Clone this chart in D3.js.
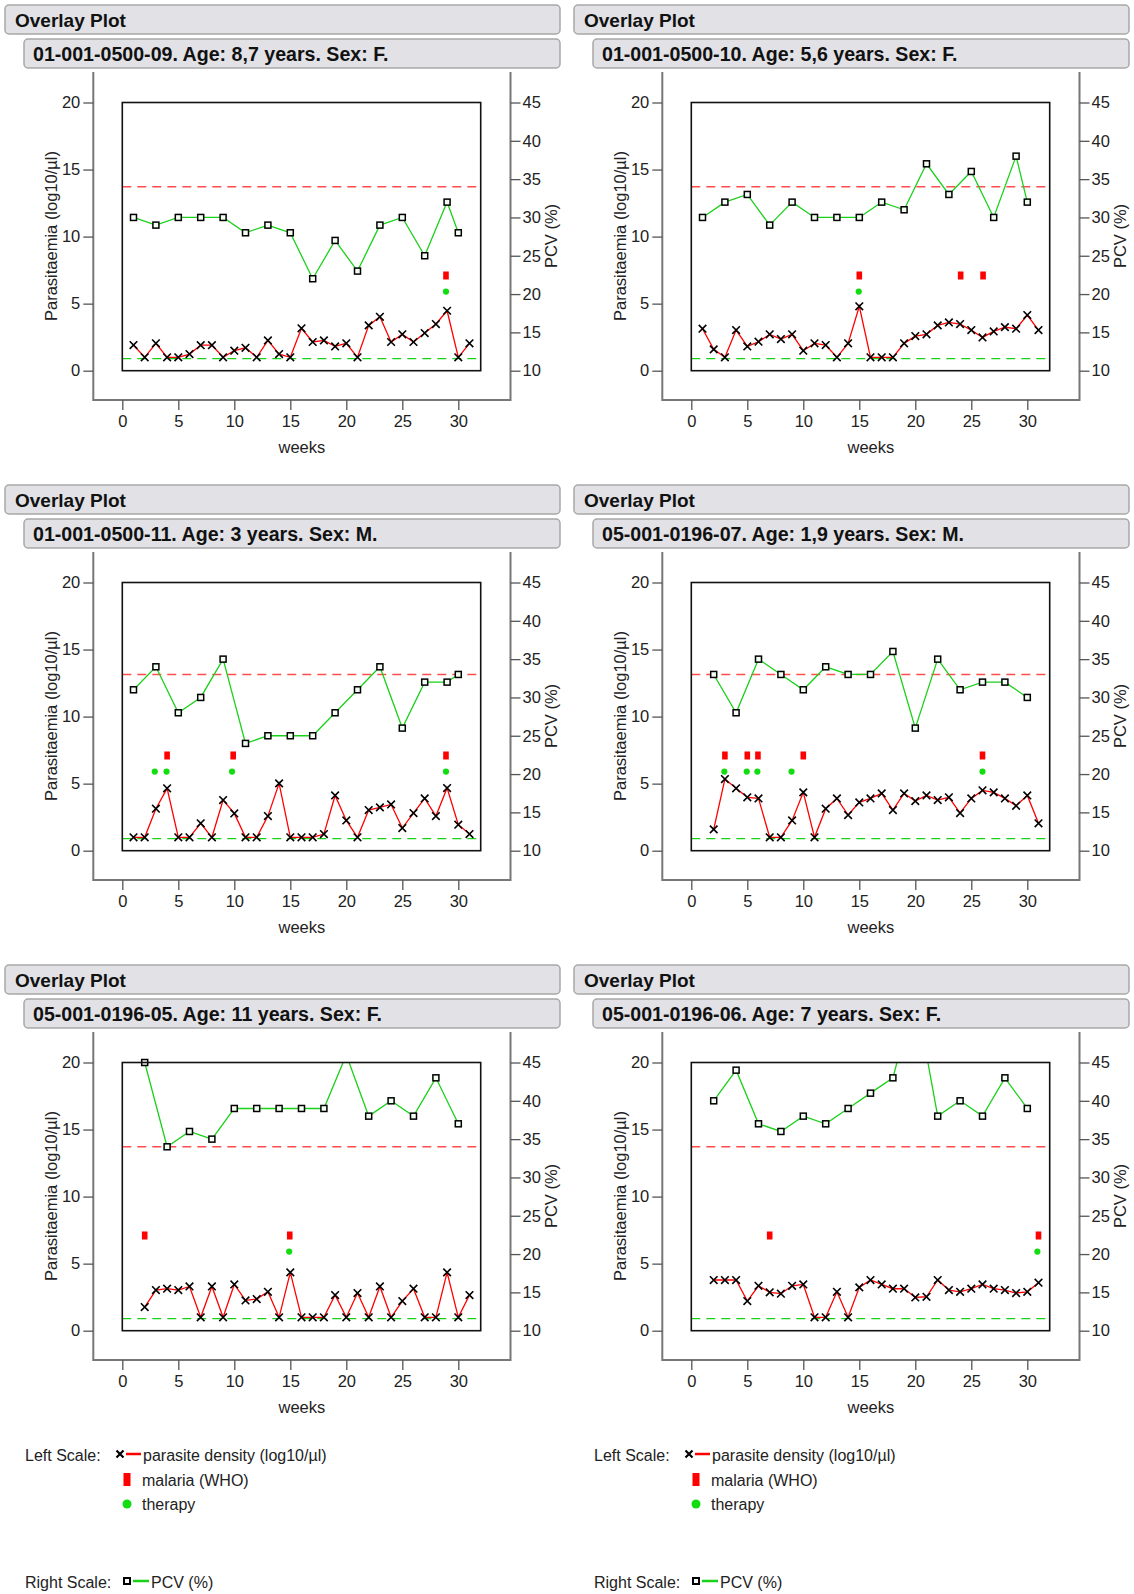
<!DOCTYPE html>
<html>
<head>
<meta charset="utf-8">
<script src="https://cdn.jsdelivr.net/npm/d3@7/dist/d3.min.js"></script>
<style>
  body { margin: 0; background: #fff; }
  svg { font-family: "Liberation Sans", Arial, sans-serif; }
</style>
</head>
<body>
<div id="chart"></div>
<script>
// ---- data ----
const subtitles = [
  "01-001-0500-09. Age: 8,7 years. Sex: F.",
  "01-001-0500-10. Age: 5,6 years. Sex: F.",
  "01-001-0500-11. Age: 3 years. Sex: M.",
  "05-001-0196-07. Age: 1,9 years. Sex: M.",
  "05-001-0196-05. Age: 11 years. Sex: F.",
  "05-001-0196-06. Age: 7 years. Sex: F."
];

const densityWeeksA = [1,2,3,4,5,6,7,8,9,10,11,12,13,14,15,16,17,18,19,20,21,22,23,24,25,26,27,28,29,30,31];
const densityWeeksB = [2,3,4,5,6,7,8,9,10,11,12,13,14,15,16,17,18,19,20,21,22,23,24,25,26,27,28,29,30,31];
const pcvWeeksA = [1,3,5,7,9,11,13,15,17,19,21,23,25,27,29,30];
const pcvWeeksB = [2,4,6,8,10,12,14,16,18,20,22,24,26,28,30];

const density1 = [1.91,1.0,2.04,1.0,1.0,1.24,1.9,1.9,1.0,1.49,1.71,1.0,2.26,1.24,1.0,3.16,2.14,2.26,1.81,2.04,1.0,3.38,4.02,2.14,2.71,2.14,2.81,3.48,4.47,1.0,2.04];
const density2 = [3.13,1.59,1.0,3.03,1.81,2.16,2.71,2.36,2.71,1.49,2.04,1.91,1.0,2.04,4.8,1.0,1.0,1.0,2.04,2.58,2.71,3.38,3.6,3.48,3.03,2.48,2.93,3.25,3.13,4.15,3.03];
const density3 = [1.0,1.0,3.13,4.65,1.0,1.0,2.04,1.0,3.78,2.78,1.0,1.0,2.58,5.02,1.0,1.0,1.0,1.24,4.12,2.26,1.0,3.03,3.23,3.45,1.69,2.81,3.9,2.58,4.67,1.94,1.24];
const density4 = [1.59,5.34,4.65,3.98,3.9,1.0,1.0,2.26,4.35,1.0,3.13,3.9,2.66,3.6,3.9,4.27,3.03,4.27,3.7,4.12,3.78,3.98,2.81,3.9,4.5,4.35,3.9,3.35,4.12,2.04];
const density5 = [1.76,3.03,3.13,3.03,3.3,1.0,3.3,1.0,3.45,2.26,2.36,2.9,1.0,4.35,1.0,1.0,1.0,2.66,1.0,2.81,1.0,3.3,1.0,2.21,3.13,1.0,1.0,4.35,1.0,2.66];
const density6 = [3.78,3.78,3.78,2.21,3.35,2.86,2.76,3.35,3.45,1.0,1.0,2.9,1.0,3.23,3.78,3.45,3.13,3.13,2.48,2.53,3.78,3.03,2.9,3.13,3.45,3.13,3.03,2.81,2.9,3.58];

const pcv1 = [30,29,30,30,30,28,29,28,22,27,23,29,30,25,32,28];
const pcv2 = [30,32,33,29,32,30,30,30,32,31,37,33,36,30,38,32];
const pcv3 = [31,34,28,30,35,24,25,25,25,28,31,34,26,32,32,33];
const pcv4 = [33,28,35,33,31,34,33,33,36,26,35,31,32,32,30];
const pcv5 = [45,34,36,35,39,39,39,39,39,46,38,40,38,43,37];
const pcv6 = [40,44,37,36,38,37,39,41,43,54,38,40,38,43,39];

const malaria1 = [28.9];
const malaria2 = [15, 24.05, 26.05];
const malaria3 = [4, 9.9, 28.9];
const malaria4 = [3, 5, 5.95, 10, 26];
const malaria5 = [2, 14.95];
const malaria6 = [7, 31];

const therapy1 = [28.9];
const therapy2 = [14.95];
const therapy3 = [2.9, 3.95, 9.8, 28.9];
const therapy4 = [2.95, 4.95, 5.9, 8.95, 26];
const therapy5 = [14.9];
const therapy6 = [30.9];

const pcvLimits = [34, 34, 33, 33, 34, 34];   // red dashed line, right scale
const densityLimit = 0.9;                       // green dashed line, left scale
const malariaLevel = 7.1;                       // row of malaria marks, left scale
const therapyLevel = 5.9;                       // row of therapy marks, left scale

const leftTicks = [0, 5, 10, 15, 20];
const rightTicks = [10, 15, 20, 25, 30, 35, 40, 45];
const weekTicks = [0, 5, 10, 15, 20, 25, 30];

const panels = [
  { sub: subtitles[0], dWeeks: densityWeeksA, density: density1, pWeeks: pcvWeeksA, pcv: pcv1, malaria: malaria1, therapy: therapy1, limit: pcvLimits[0] },
  { sub: subtitles[1], dWeeks: densityWeeksA, density: density2, pWeeks: pcvWeeksA, pcv: pcv2, malaria: malaria2, therapy: therapy2, limit: pcvLimits[1] },
  { sub: subtitles[2], dWeeks: densityWeeksA, density: density3, pWeeks: pcvWeeksA, pcv: pcv3, malaria: malaria3, therapy: therapy3, limit: pcvLimits[2] },
  { sub: subtitles[3], dWeeks: densityWeeksB, density: density4, pWeeks: pcvWeeksB, pcv: pcv4, malaria: malaria4, therapy: therapy4, limit: pcvLimits[3] },
  { sub: subtitles[4], dWeeks: densityWeeksB, density: density5, pWeeks: pcvWeeksB, pcv: pcv5, malaria: malaria5, therapy: therapy5, limit: pcvLimits[4] },
  { sub: subtitles[5], dWeeks: densityWeeksB, density: density6, pWeeks: pcvWeeksB, pcv: pcv6, malaria: malaria6, therapy: therapy6, limit: pcvLimits[5] }
];

// ---- layout ----
const width = 1134, height = 1594;
const colX = [0, 569];
const rowY = [0, 480];

const axisLeftX = 93.3, axisRightX = 510.5, axisTopY = 72, axisBottomY = 400;

const x = d3.scaleLinear().domain([0, 32]).range([122.3, 480.7]);
const yL = d3.scaleLinear().domain([0, 20]).range([370.7, 102.5]);
const yR = d3.scaleLinear().domain([10, 45]).range([370.7, 102.5]);

const RED = "#ff0000", GREEN = "#19d119", GRAY = "#777";

const svg = d3.select("#chart").append("svg")
  .attr("width", width)
  .attr("height", height);

const xMark = "M-3.8,-3.8L3.8,3.8M-3.8,3.8L3.8,-3.8";

panels.forEach((p, i) => {
  const g = svg.append("g")
    .attr("transform", `translate(${colX[i % 2]},${rowY[0] + 480 * Math.floor(i / 2)})`);

  // title boxes
  g.append("rect").attr("x", 5).attr("y", 5).attr("width", 555).attr("height", 29)
    .attr("rx", 4).attr("fill", "#e1e1e6").attr("stroke", "#a8a8a8").attr("stroke-width", 1.5);
  g.append("text").attr("x", 15).attr("y", 27)
    .attr("font-size", "19px").attr("font-weight", "bold").attr("fill", "#111")
    .text("Overlay Plot");
  g.append("rect").attr("x", 24).attr("y", 39).attr("width", 536).attr("height", 29)
    .attr("rx", 4).attr("fill", "#e1e1e6").attr("stroke", "#a8a8a8").attr("stroke-width", 1.5);
  g.append("text").attr("x", 33).attr("y", 61)
    .attr("font-size", "19.6px").attr("font-weight", "bold").attr("fill", "#111")
    .text(p.sub);

  // outer axis lines
  g.append("path")
    .attr("d", `M${axisLeftX},${axisTopY}V${axisBottomY}H${axisRightX}V${axisTopY}`)
    .attr("fill", "none").attr("stroke", GRAY).attr("stroke-width", 2);

  // left axis
  const la = g.append("g").attr("transform", `translate(${axisLeftX},0)`);
  la.call(d3.axisLeft(yL).tickValues(d3.range(0, 21)).tickSize(6).tickFormat(""));
  la.call(d3.axisLeft(yL).tickValues(leftTicks).tickSize(10).tickPadding(3));

  // right axis
  const ra = g.append("g").attr("transform", `translate(${axisRightX},0)`);
  ra.call(d3.axisRight(yR).tickValues(d3.range(10, 46)).tickSize(6).tickFormat(""));
  ra.call(d3.axisRight(yR).tickValues(rightTicks).tickSize(10).tickPadding(2));

  // bottom axis
  const ba = g.append("g").attr("transform", `translate(0,${axisBottomY})`);
  ba.call(d3.axisBottom(x).tickValues(d3.range(0, 33)).tickSize(6).tickFormat(""));
  ba.call(d3.axisBottom(x).tickValues(weekTicks).tickSize(10).tickPadding(5));

  g.selectAll(".domain").remove();
  g.selectAll(".tick line").attr("stroke", "#555").attr("stroke-width", 1.3);
  g.selectAll(".tick text").attr("font-size", "16.5px").attr("fill", "#222")
    .attr("font-family", "Liberation Sans, Arial, sans-serif");

  // axis titles
  g.append("text")
    .attr("transform", `translate(57,236) rotate(-90)`)
    .attr("text-anchor", "middle").attr("font-size", "16.5px").attr("fill", "#222")
    .text("Parasitaemia (log10/µl)");
  g.append("text")
    .attr("transform", `translate(557,236) rotate(-90)`)
    .attr("text-anchor", "middle").attr("font-size", "16.5px").attr("fill", "#222")
    .text("PCV (%)");
  g.append("text")
    .attr("x", (axisLeftX + axisRightX) / 2).attr("y", 453)
    .attr("text-anchor", "middle").attr("font-size", "16.5px").attr("fill", "#222")
    .text("weeks");

  // clip to inner frame
  const clipId = "clip" + i;
  g.append("clipPath").attr("id", clipId)
    .append("rect")
    .attr("x", x(0)).attr("y", yL(20))
    .attr("width", x(32) - x(0)).attr("height", yL(0) - yL(20));

  const plot = g.append("g").attr("clip-path", `url(#${clipId})`);

  // threshold lines
  plot.append("line")
    .attr("x1", x(0)).attr("x2", x(32))
    .attr("y1", yR(p.limit)).attr("y2", yR(p.limit))
    .attr("stroke", "#ff4d4d").attr("stroke-width", 1.4).attr("stroke-dasharray", "9,6");
  plot.append("line")
    .attr("x1", x(0)).attr("x2", x(32))
    .attr("y1", yL(densityLimit)).attr("y2", yL(densityLimit))
    .attr("stroke", GREEN).attr("stroke-width", 1.4).attr("stroke-dasharray", "9,6");

  // PCV line
  const pcvData = p.pWeeks.map((w, k) => ({ w, v: p.pcv[k] }));
  plot.append("path")
    .datum(pcvData)
    .attr("fill", "none").attr("stroke", GREEN).attr("stroke-width", 1.3)
    .attr("d", d3.line().x(d => x(d.w)).y(d => yR(d.v)));

  // density line
  const dData = p.dWeeks.map((w, k) => ({ w, v: p.density[k] }));
  plot.append("path")
    .datum(dData)
    .attr("fill", "none").attr("stroke", RED).attr("stroke-width", 1.3)
    .attr("d", d3.line().x(d => x(d.w)).y(d => yL(d.v)));

  // malaria marks
  g.selectAll(".mal")
    .data(p.malaria)
    .enter().append("rect")
    .attr("x", d => x(d) - 2.8).attr("y", yL(malariaLevel) - 4)
    .attr("width", 5.6).attr("height", 8)
    .attr("fill", RED);

  // therapy marks
  g.selectAll(".ther")
    .data(p.therapy)
    .enter().append("circle")
    .attr("cx", d => x(d)).attr("cy", yL(therapyLevel))
    .attr("r", 3.1)
    .attr("fill", "#11dd11");

  // density markers
  g.selectAll(".xm")
    .data(dData)
    .enter().append("path")
    .attr("transform", d => `translate(${x(d.w)},${yL(d.v)})`)
    .attr("d", xMark)
    .attr("stroke", "#000").attr("stroke-width", 1.6).attr("fill", "none");

  // PCV markers (off-scale values are not drawn)
  g.selectAll(".sq")
    .data(pcvData.filter(d => d.v <= 45))
    .enter().append("rect")
    .attr("x", d => x(d.w) - 3).attr("y", d => yR(d.v) - 3)
    .attr("width", 6).attr("height", 6)
    .attr("fill", "#f4fff4").attr("stroke", "#000").attr("stroke-width", 1.5);

  // inner frame
  g.append("rect")
    .attr("x", x(0)).attr("y", yL(20))
    .attr("width", x(32) - x(0)).attr("height", yL(0) - yL(20))
    .attr("fill", "none").attr("stroke", "#111").attr("stroke-width", 1.6);
});

// ---- legends ----
colX.forEach(cx => {
  const lg = svg.append("g").attr("transform", `translate(${cx},0)`);
  const txt = (xx, yy, s) => lg.append("text").attr("x", xx).attr("y", yy)
    .attr("font-size", "16px").attr("fill", "#222").text(s);

  txt(25, 1461, "Left Scale:");
  lg.append("path").attr("transform", "translate(120,1454)").attr("d", "M-3.5,-3.5L3.5,3.5M-3.5,3.5L3.5,-3.5")
    .attr("stroke", "#000").attr("stroke-width", 2.2);
  lg.append("line").attr("x1", 126).attr("x2", 141).attr("y1", 1454).attr("y2", 1454)
    .attr("stroke", RED).attr("stroke-width", 2.5);
  txt(143, 1461, "parasite density (log10/µl)");

  lg.append("rect").attr("x", 123.5).attr("y", 1473).attr("width", 7).attr("height", 13).attr("fill", RED);
  txt(142, 1486, "malaria (WHO)");

  lg.append("circle").attr("cx", 127).attr("cy", 1504).attr("r", 4.5).attr("fill", "#11dd11");
  txt(142, 1510, "therapy");

  txt(25, 1588, "Right Scale:");
  lg.append("rect").attr("x", 124).attr("y", 1578).attr("width", 6).attr("height", 6)
    .attr("fill", "#fff").attr("stroke", "#000").attr("stroke-width", 2);
  lg.append("line").attr("x1", 133).attr("x2", 149).attr("y1", 1581).attr("y2", 1581)
    .attr("stroke", GREEN).attr("stroke-width", 2.5);
  txt(151, 1588, "PCV (%)");
});
</script>
</body>
</html>
